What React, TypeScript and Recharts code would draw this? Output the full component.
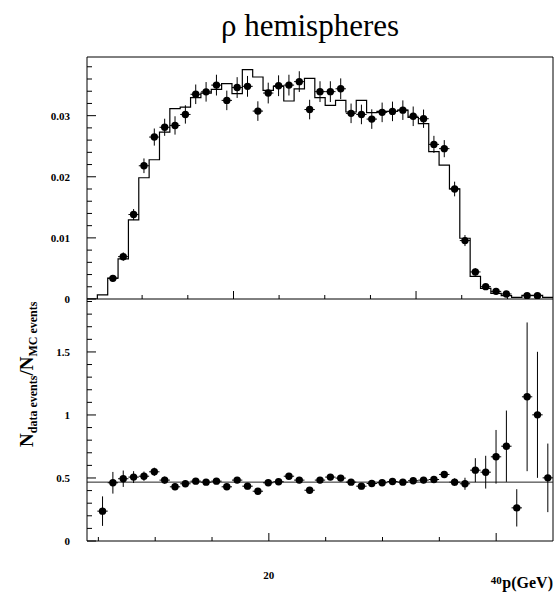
import React from 'react';
import { ComposedChart, Line, Scatter, XAxis, YAxis, ErrorBar, ReferenceLine } from 'recharts';

// ---- binning (p in GeV) ----
const P_MIN = 4;
const P_MAX = 45;
const N_BINS = 45;
const BIN_WIDTH = (P_MAX - P_MIN) / N_BINS;

// ---- top panel: normalised distributions ----
const mcFraction = [
  0, 0.00066, 0.0034, 0.00656, 0.01295, 0.01984, 0.02279, 0.02731, 0.03115, 0.0314,
  0.03295, 0.0337, 0.0343, 0.03525, 0.0336, 0.03754, 0.03633, 0.03415, 0.0348, 0.0324,
  0.0344, 0.0361, 0.03295, 0.0317, 0.0325, 0.0306, 0.0325, 0.0305, 0.0307, 0.0307,
  0.0309, 0.0297, 0.0287, 0.0241, 0.0219, 0.01803, 0.00994, 0.0037, 0.00174, 0.00092,
  0.00054, 0.00026, 0.0006, 0.0006, 0.00026,
];
const dataFraction: (number | null)[] = [
  null, null, 0.00338, 0.00693, 0.01382, 0.0218, 0.0265, 0.0281, 0.0284, 0.0302,
  0.0335, 0.0339, 0.035, 0.0325, 0.0346, 0.0348, 0.03075, 0.0337, 0.0349, 0.035,
  0.03557, 0.031, 0.03393, 0.03393, 0.0344, 0.03038, 0.0302, 0.02944, 0.03054, 0.0307,
  0.0309, 0.0299, 0.0295, 0.0253, 0.0246, 0.018, 0.00956, 0.00443, 0.00202, 0.00125,
  0.00082, null, 0.00054, 0.00054, null,
];
const dataFractionErr: (number | null)[] = [
  null, null, 0.0005, 0.0007, 0.0009, 0.0012, 0.0014, 0.0014, 0.0015, 0.0015,
  0.0016, 0.0016, 0.0017, 0.0016, 0.0017, 0.0017, 0.0016, 0.0017, 0.0017, 0.0017,
  0.0017, 0.0016, 0.0017, 0.0017, 0.0017, 0.0016, 0.0016, 0.0016, 0.0016, 0.0016,
  0.0016, 0.0016, 0.0015, 0.0014, 0.0014, 0.0012, 0.0009, 0.0006, 0.0004, 0.0003,
  0.0003, null, 0.0002, 0.0002, null,
];

// ---- bottom panel: ratio ----
const ratio: (number | null)[] = [
  null, 0.237, 0.462, 0.494, 0.507, 0.514, 0.549, 0.483, 0.43, 0.454,
  0.475, 0.467, 0.475, 0.43, 0.483, 0.435, 0.395, 0.462, 0.47, 0.514,
  0.483, 0.403, 0.483, 0.507, 0.499, 0.467, 0.435, 0.456, 0.462, 0.472,
  0.467, 0.478, 0.483, 0.488, 0.528, 0.467, 0.454, 0.562, 0.546, 0.668,
  0.752, 0.263, 1.144, 1.001, 0.501,
];
const ratioErr: (number | null)[] = [
  null, 0.117, 0.086, 0.065, 0.047, 0.037, 0.033, 0.028, 0.026, 0.025,
  0.024, 0.024, 0.024, 0.025, 0.024, 0.025, 0.025, 0.024, 0.024, 0.024,
  0.024, 0.025, 0.024, 0.024, 0.024, 0.024, 0.025, 0.024, 0.024, 0.024,
  0.024, 0.024, 0.025, 0.026, 0.027, 0.03, 0.048, 0.095, 0.13, 0.213,
  0.283, 0.148, 0.59, 0.5, 0.272,
];
const ratioLevel = 0.467;

// ---- ticks ----
const topYTicks = [0, 0.002, 0.004, 0.006, 0.008, 0.01, 0.012, 0.014, 0.016, 0.018, 0.02, 0.022, 0.024, 0.026, 0.028, 0.03, 0.032, 0.034, 0.036, 0.038];
const topYMajor = [0, 0.01, 0.02, 0.03];
const topYLabels = ['0', '0.01', '0.02', '0.03'];
const botYTicks = [0, 0.1, 0.2, 0.3, 0.4, 0.5, 0.6, 0.7, 0.8, 0.9, 1, 1.1, 1.2, 1.3, 1.4, 1.5, 1.6, 1.7, 1.8, 1.9];
const botYMajor = [0, 0.5, 1, 1.5];
const botYLabels = ['0', '0.5', '1', '1.5'];
const topXTicks = [8.85, 12.87, 16.89, 20.9, 24.92, 28.94, 32.95, 36.97, 40.99];
const topXMajor = [16.89, 32.95];
const botXTicks = [5, 10, 15, 20, 25, 30, 35, 40];
const botXMajor = [20, 40];
const botXLabels = ['20', '40'];
const botXLabelDrop = [0, 5];

const TOP_DOMAIN: [number, number] = [0, 0.0396];
const BOT_DOMAIN: [number, number] = [0, 1.92];

const FONT = '"Liberation Serif", "Times New Roman", serif';

// ---- derived series ----
const mcStep = [
  ...mcFraction.map((v, i) => ({ x: P_MIN + i * BIN_WIDTH, y: v })),
  { x: P_MAX, y: mcFraction[mcFraction.length - 1] },
];
const dataPoints = dataFraction
  .map((v, i) =>
    v == null ? null : { x: P_MIN + (i + 0.5) * BIN_WIDTH, y: v, ey: dataFractionErr[i], ex: BIN_WIDTH / 2 }
  )
  .filter(Boolean) as { x: number; y: number; ey: number; ex: number }[];
const ratioPoints = ratio
  .map((v, i) =>
    v == null ? null : { x: P_MIN + (i + 0.5) * BIN_WIDTH, y: v, ey: ratioErr[i], ex: BIN_WIDTH / 2 }
  )
  .filter(Boolean) as { x: number; y: number; ey: number; ex: number }[];

const findIdx = (arr: number[], v: number) => arr.findIndex((m) => Math.abs(m - v) < 1e-6);

const makeYTick = (majors: number[], labels: string[]) => (props: any) => {
  const { x, y, payload } = props;
  const idx = findIdx(majors, payload.value);
  const major = idx >= 0;
  return (
    <g>
      <line x1={x} x2={x + (major ? 9 : 5)} y1={y} y2={y} stroke="#000" strokeWidth={1} />
      {major && (
        <text x={x - 17} y={y + 4} textAnchor="end" fontFamily={FONT} fontWeight="bold" fontSize={11} fill="#000">
          {labels[idx]}
        </text>
      )}
    </g>
  );
};

const makeXTick = (majors: number[], labels: string[] | null, drops: number[] | null) => (props: any) => {
  const { x, y, payload } = props;
  const idx = findIdx(majors, payload.value);
  const major = idx >= 0;
  return (
    <g>
      <line x1={x} x2={x} y1={y} y2={y - (major ? 8 : 4)} stroke="#000" strokeWidth={1} />
      {major && labels && (
        <text x={x} y={y + 38 + (drops ? drops[idx] : 0)} textAnchor="middle" fontFamily={FONT} fontWeight="bold" fontSize={11} fill="#000">
          {labels[idx]}
        </text>
      )}
    </g>
  );
};

const Dot = (props: any) => {
  const { cx, cy } = props;
  if (cx == null || cy == null) return null;
  return <circle cx={cx} cy={cy} r={3.7} fill="#000" />;
};

export default function App() {
  return (
    <div style={{ position: 'absolute', left: 0, top: 0, width: 554, height: 596, background: '#fff' }}>
      <div style={{ position: 'absolute', left: 0, top: 0 }}>
        <ComposedChart width={554} height={310} margin={{ top: 57, right: 1, bottom: 10, left: 0 }}>
          <XAxis
            type="number"
            dataKey="x"
            domain={[P_MIN, P_MAX]}
            allowDataOverflow
            ticks={topXTicks}
            interval={0}
            height={1}
            tickSize={0}
            tickMargin={0}
            tickLine={false}
            axisLine={{ stroke: '#000', strokeWidth: 1 }}
            tick={makeXTick(topXMajor, null, null)}
          />
          <YAxis
            type="number"
            domain={TOP_DOMAIN}
            allowDataOverflow
            ticks={topYTicks}
            interval={0}
            width={87}
            tickSize={0}
            tickMargin={0}
            tickLine={false}
            axisLine={{ stroke: '#000', strokeWidth: 1 }}
            tick={makeYTick(topYMajor, topYLabels)}
          />
          <ReferenceLine y={TOP_DOMAIN[1]} stroke="#000" strokeWidth={1} />
          <ReferenceLine x={P_MAX} stroke="#000" strokeWidth={1} />
          <Line
            data={mcStep}
            dataKey="y"
            type="stepAfter"
            stroke="#000"
            strokeWidth={1.2}
            dot={false}
            activeDot={false}
            isAnimationActive={false}
          />
          <Scatter data={dataPoints} dataKey="y" shape={Dot} isAnimationActive={false}>
            <ErrorBar dataKey="ey" direction="y" width={0} stroke="#000" strokeWidth={1} />
            <ErrorBar dataKey="ex" direction="x" width={0} stroke="#000" strokeWidth={1} />
          </Scatter>
        </ComposedChart>
      </div>
      <div style={{ position: 'absolute', left: 0, top: 299 }}>
        <ComposedChart width={554} height={297} margin={{ top: 0, right: 1, bottom: 54, left: 0 }}>
          <XAxis
            type="number"
            dataKey="x"
            domain={[P_MIN, P_MAX]}
            allowDataOverflow
            ticks={botXTicks}
            interval={0}
            height={1}
            tickSize={0}
            tickMargin={0}
            tickLine={false}
            axisLine={{ stroke: '#000', strokeWidth: 1 }}
            tick={makeXTick(botXMajor, botXLabels, botXLabelDrop)}
          />
          <YAxis
            type="number"
            domain={BOT_DOMAIN}
            allowDataOverflow
            ticks={botYTicks}
            interval={0}
            width={87}
            tickSize={0}
            tickMargin={0}
            tickLine={false}
            axisLine={{ stroke: '#000', strokeWidth: 1 }}
            tick={makeYTick(botYMajor, botYLabels)}
          />
          <ReferenceLine x={P_MAX} stroke="#000" strokeWidth={1} />
          <ReferenceLine y={ratioLevel} stroke="#222" strokeWidth={1} />
          <Scatter data={ratioPoints} dataKey="y" shape={Dot} isAnimationActive={false}>
            <ErrorBar dataKey="ey" direction="y" width={0} stroke="#000" strokeWidth={1} />
            <ErrorBar dataKey="ex" direction="x" width={0} stroke="#000" strokeWidth={1} />
          </Scatter>
        </ComposedChart>
      </div>
      <svg
        width={554}
        height={596}
        style={{ position: 'absolute', left: 0, top: 0, pointerEvents: 'none' }}
      >
        <text x={310} y={36} textAnchor="middle" fontFamily={FONT} fontSize={31} fill="#000">
          ρ hemispheres
        </text>
        <text
          x={33}
          y={447}
          transform="rotate(-90, 33, 447)"
          fontFamily={FONT}
          fontWeight="bold"
          fill="#000"
        >
          <tspan fontSize={19}>N</tspan>
          <tspan fontSize={12} dy={4}>data events</tspan>
          <tspan fontSize={19} dy={-4}>/N</tspan>
          <tspan fontSize={12} dy={4}>MC events</tspan>
        </text>
        <text x={553} y={588} textAnchor="end" fontFamily={FONT} fontWeight="bold" fontSize={16} fill="#000">
          p(GeV)
        </text>
      </svg>
    </div>
  );
}
